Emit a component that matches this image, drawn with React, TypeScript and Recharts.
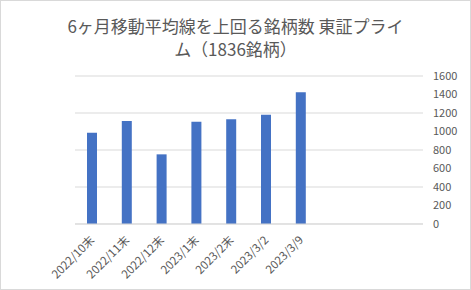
import React from 'react'
import { BarChart, Bar, XAxis, YAxis, CartesianGrid } from 'recharts'

// categories (last three slots are empty in the source sheet)
const categories = ['2022/10末', '2022/11末', '2022/12末', '2023/1末', '2023/2末', '2023/3/2', '2023/3/9', '', '', '']
const counts: (number | null)[] = [987, 1113, 753, 1106, 1132, 1182, 1424, null, null, null]
const yTicks = [0, 200, 400, 600, 800, 1000, 1200, 1400, 1600]

const chartData = categories.map((name, i) => ({ name, value: counts[i] }))

const FONT = '"Noto Sans CJK JP", "Noto Sans", sans-serif'
const TEXT = '#595959'

const XTick = ({ x, y, payload }: { x?: number; y?: number; payload?: { value: string } }) => {
  if (!payload?.value) return null
  return (
    <g transform={`translate(${x},${(y ?? 0) + 6})`}>
      <text
        transform="rotate(-45)"
        textAnchor="end"
        dy={4}
        fontSize={11.5}
        fill={TEXT}
        fontFamily={FONT}
      >
        {payload.value}
      </text>
    </g>
  )
}

export default function App() {
  return (
    <div style={{
      position: 'absolute', left: 0, top: 0, width: 471, height: 290,
      boxSizing: 'border-box', border: '1px solid #d9d9d9', background: '#fff',
    }}>
      <div style={{
        position: 'absolute', left: 0, top: 13, width: 469, textAlign: 'center',
        fontFamily: FONT, fontSize: 17, lineHeight: '23px', color: TEXT,
      }}>
        6ヶ月移動平均線を上回る銘柄数 東証プライ<br />ム（1836銘柄）
      </div>
      <div style={{ position: 'absolute', left: -1, top: -1 }}>
        <BarChart width={471} height={290} data={chartData}
          margin={{ top: 76, right: 0, left: 75, bottom: 6 }}>
          <CartesianGrid stroke="#d9d9d9" vertical={false} />
          <XAxis dataKey="name" interval={0} height={60}
            axisLine={{ stroke: '#d9d9d9' }} tickLine={false} tick={<XTick />} />
          <YAxis orientation="right" domain={[0, 1600]} ticks={yTicks} width={48}
            axisLine={false} tickLine={false} tickMargin={4}
            tick={{ fontSize: 11, fill: TEXT, fontFamily: FONT }} />
          <Bar dataKey="value" fill="#4472C4" barSize={10} isAnimationActive={false} />
        </BarChart>
      </div>
    </div>
  )
}
